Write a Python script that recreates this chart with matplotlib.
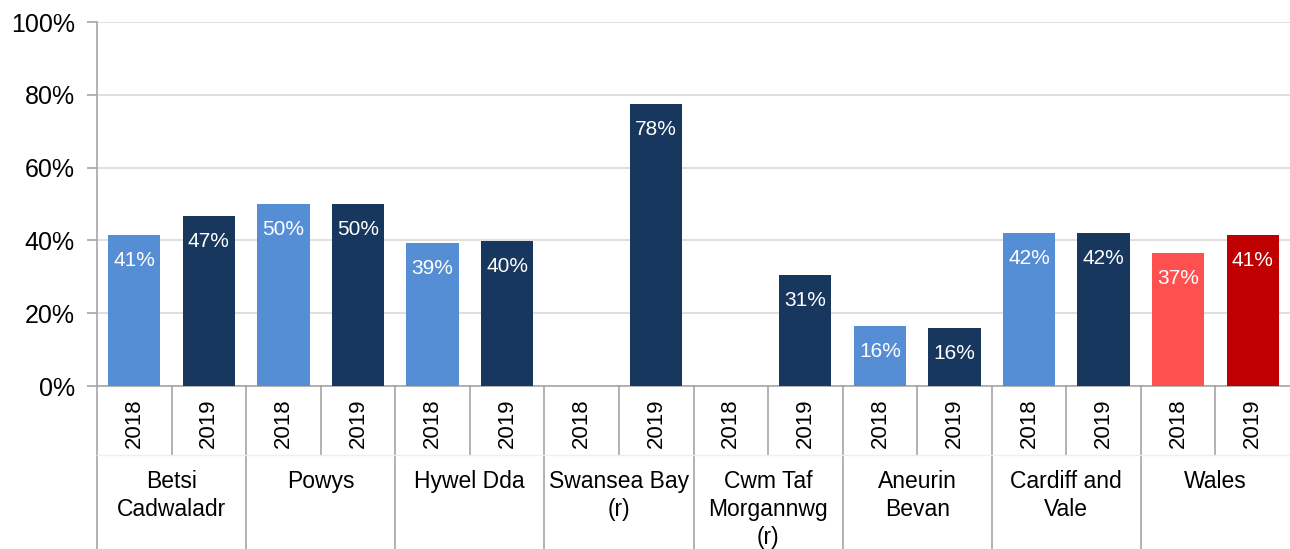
import matplotlib
matplotlib.use("Agg")
import matplotlib.pyplot as plt
from matplotlib.ticker import FuncFormatter

# --------------------------------------------------------------------------- #
# Data
# --------------------------------------------------------------------------- #
groups = [
    "Betsi\nCadwaladr",
    "Powys",
    "Hywel Dda",
    "Swansea Bay\n(r)",
    "Cwm Taf\nMorgannwg\n(r)",
    "Aneurin\nBevan",
    "Cardiff and\nVale",
    "Wales",
]
years = ["2018", "2019"]
values_2018 = [41.5, 50.0, 39.3, None, None, 16.4, 42.1, 36.6]
values_2019 = [46.8, 50.0, 39.9, 77.5, 30.6, 15.9, 42.0, 41.5]
labels_2018 = ["41%", "50%", "39%", None, None, "16%", "42%", "37%"]
labels_2019 = ["47%", "50%", "40%", "78%", "31%", "16%", "42%", "41%"]
y_ticks = [0, 20, 40, 60, 80, 100]

# --------------------------------------------------------------------------- #
# Style
# --------------------------------------------------------------------------- #
plt.rcParams["font.family"] = ["Liberation Sans", "DejaVu Sans"]
c2018 = "#558ED5"
c2019 = "#17375E"
wales2018 = "#FF5050"
wales2019 = "#C00000"
grid_col = "#D9D9D9"
axis_col = "#A6A6A6"

W, H = 1290, 549
fig = plt.figure(figsize=(W / 100, H / 100), dpi=100)
left_px, top_px, right_px, bottom_px = 97, 22, 1290, 386
ax = fig.add_axes([left_px / W, 1 - bottom_px / H,
                   (right_px - left_px) / W, (bottom_px - top_px) / H])

n = len(groups)
bar_w = 0.7
for i in range(n):
    pairs = [(values_2018[i], labels_2018[i], 2 * i),
             (values_2019[i], labels_2019[i], 2 * i + 1)]
    for k, (v, lab, x) in enumerate(pairs):
        if v is None:
            continue
        if groups[i] == "Wales":
            col = wales2018 if k == 0 else wales2019
        else:
            col = c2018 if k == 0 else c2019
        ax.bar(x, v, width=bar_w, color=col, zorder=3)
        # label sits inside the bar, ~26 px below its top
        ax.annotate(lab, (x, v), xytext=(0, -18.5), textcoords="offset points",
                    ha="center", va="center", color="white", fontsize=15,
                    zorder=4)

ax.set_xlim(-0.5, 2 * n - 0.5)
ax.set_ylim(0, 100)
ax.set_yticks(y_ticks)
ax.yaxis.set_major_formatter(FuncFormatter(lambda v, p: f"{v:.0f}%"))
ax.tick_params(axis="y", labelsize=18, length=7, color=axis_col, pad=9,
               width=1.2)
ax.set_xticks([])
ax.grid(axis="y", color=grid_col, linewidth=1.2, zorder=0)
for s in ["top", "right"]:
    ax.spines[s].set_visible(False)
ax.spines["left"].set_color(axis_col)
ax.spines["bottom"].set_color(axis_col)
ax.spines["left"].set_linewidth(1.2)
ax.spines["bottom"].set_linewidth(1.2)

# Multi-level category axis, drawn below the plot area
plot_h = bottom_px - top_px


def yfrac(px):
    return (bottom_px - px) / plot_h


trans = ax.get_xaxis_transform()
y_year_bottom = yfrac(455)
y_fig_bottom = yfrac(H)
for i in range(n):
    # separator between the two years in a group
    ax.plot([2 * i + 0.5] * 2, [0, y_year_bottom], transform=trans,
            color=axis_col, linewidth=1.2, clip_on=False)
    # group boundary
    ax.plot([2 * i - 0.5] * 2, [0, y_fig_bottom], transform=trans,
            color=axis_col, linewidth=1.2, clip_on=False)
    for k, yr in enumerate(years):
        ax.text(2 * i + k, yfrac(423), yr, transform=trans, rotation=90,
                ha="center", va="center", fontsize=16)
    ax.text(2 * i + 0.5, yfrac(470), groups[i], transform=trans,
            ha="center", va="top", fontsize=16.5, linespacing=1.27)
ax.plot([-0.5, 2 * n - 0.5], [y_year_bottom] * 2, transform=trans,
        color="#EFEFEF", linewidth=1, clip_on=False)

fig.savefig("out.png", dpi=100)
